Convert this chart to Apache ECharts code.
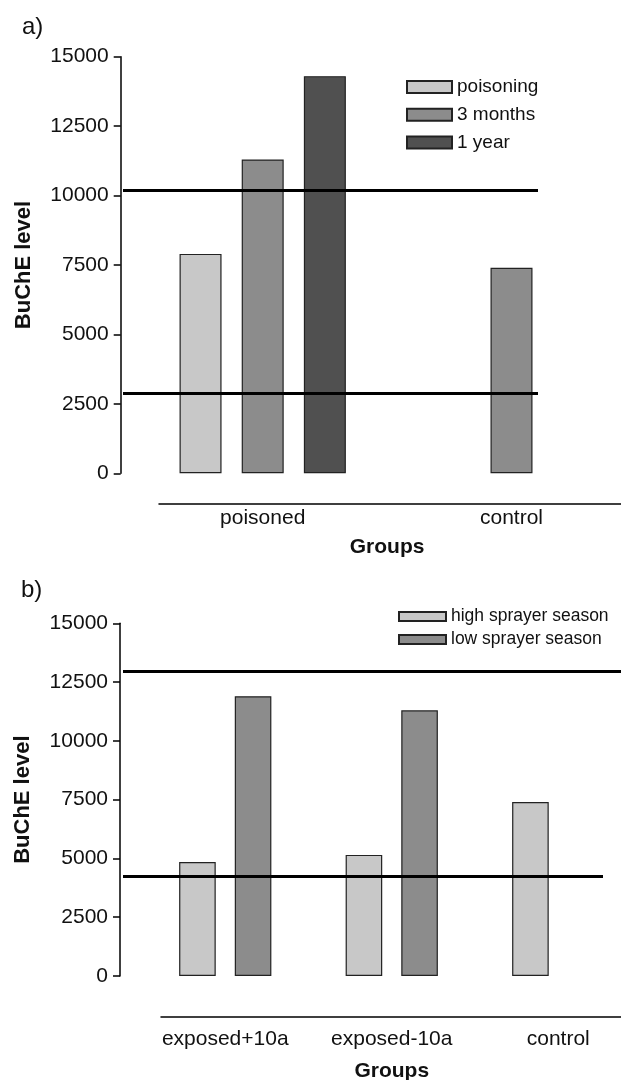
<!DOCTYPE html>
<html>
<head>
<meta charset="utf-8">
<script src="https://cdn.jsdelivr.net/npm/echarts@6/dist/echarts.min.js"></script>
<style>
html,body{margin:0;padding:0;background:#fff;}
#chart{width:621px;height:1080px;}
</style>
</head>
<body>
<div id="chart"></div>
<script>
// ---- data ----
const yMin = 0, yMax = 15000, yStep = 2500;

const catsA = ['poisoned', 'control'];
const poisoningA = [7900, null];
const months3A = [11300, 7400];
const year1A = [14300, null];
const refLinesA = [10200, 2900];

const catsB = ['exposed+10a', 'exposed-10a', 'control'];
const highB = [4850, 5150, 7400];
const lowB = [11900, 11300, null];
const refLinesB = [12950, 4250];

// ---- styling ----
const FONT = 'Liberation Sans, Arial, Helvetica, sans-serif';
const TXT = '#111';
const C_LIGHT = '#c8c8c8', C_MID = '#8c8c8c', C_DARK = '#505050';
const BORDER = '#222';

function valueAxis(gridIndex, offset) {
  return {
    type: 'value', gridIndex: gridIndex, min: yMin, max: yMax, interval: yStep,
    offset: offset,
    name: 'BuChE level', nameLocation: 'middle', nameRotate: 90, nameGap: 86,
    nameTextStyle: { fontFamily: FONT, fontWeight: 'bold', fontSize: 22, color: TXT },
    axisLine: { show: true, lineStyle: { color: '#000', width: 1.5 } },
    axisTick: { show: true, length: 7, lineStyle: { color: '#000', width: 1.5 } },
    axisLabel: { fontFamily: FONT, fontSize: 21, color: TXT, margin: 12,
      formatter: function (v) { return String(v); } },
    splitLine: { show: false }
  };
}
function catAxis(gridIndex, cats, labelMargin, nameGap) {
  return {
    type: 'category', gridIndex: gridIndex, data: cats,
    axisLine: { show: false }, axisTick: { show: false },
    axisLabel: { fontFamily: FONT, fontSize: 21, color: TXT, margin: labelMargin },
    name: 'Groups', nameLocation: 'middle', nameGap: nameGap,
    nameTextStyle: { fontFamily: FONT, fontWeight: 'bold', fontSize: 21, color: TXT }
  };
}
function lineAxis(gridIndex) {
  return {
    type: 'value', gridIndex: gridIndex, min: 0, max: 1,
    axisLine: { show: true, lineStyle: { color: '#000', width: 1.5 } },
    axisTick: { show: false }, axisLabel: { show: false }, splitLine: { show: false }
  };
}
function refMarkLine(values, xStarts, xEnds) {
  return {
    silent: true, symbol: 'none', label: { show: false },
    lineStyle: { color: '#000', width: 3, type: 'solid' },
    data: values.map(function (v, i) {
      return [{ x: xStarts[i], yAxis: v }, { x: xEnds[i], yAxis: v }];
    })
  };
}
function barSeries(name, data, color, xi, yi, width, gap, extra) {
  const s = {
    type: 'bar', name: name, data: data, xAxisIndex: xi, yAxisIndex: yi,
    barWidth: width, barGap: gap,
    itemStyle: { color: color, borderColor: BORDER, borderWidth: 1.2 }
  };
  if (extra) Object.assign(s, extra);
  return s;
}

const chart = echarts.init(document.getElementById('chart'), null, { renderer: 'canvas' });
chart.setOption({
  animation: false,
  backgroundColor: '#fff',
  title: [
    { text: 'a)', left: 17, top: 10, textStyle: { fontFamily: FONT, fontWeight: 'normal', fontSize: 24, color: TXT } },
    { text: 'b)', left: 16, top: 573, textStyle: { fontFamily: FONT, fontWeight: 'normal', fontSize: 24, color: TXT } }
  ],
  legend: [
    {
      data: ['poisoning', '3 months', '1 year'], orient: 'vertical',
      left: 401, top: 72.5, itemWidth: 45, itemHeight: 12, itemGap: 8.7, icon: 'rect',
      selectedMode: false,
      textStyle: { fontFamily: FONT, fontSize: 19, color: TXT }
    },
    {
      data: ['high sprayer season', 'low sprayer season'], orient: 'vertical',
      left: 393, top: 602.5, itemWidth: 47, itemHeight: 9, itemGap: 5, icon: 'rect',
      selectedMode: false,
      textStyle: { fontFamily: FONT, fontSize: 17.5, color: TXT }
    }
  ],
  grid: [
    { left: 138.3, width: 497.6, top: 56.7, height: 416.6, outerBoundsMode: 'none', containLabel: false },
    { left: 142, width: 499.5, top: 623.3, height: 352.7, outerBoundsMode: 'none', containLabel: false },
    { left: 159, right: 0, top: 480, height: 23.3, outerBoundsMode: 'none' },
    { left: 161, right: 0, top: 990, height: 26.7, outerBoundsMode: 'none' }
  ],
  xAxis: [
    catAxis(0, catsA, 34, 63),
    catAxis(1, catsB, 53, 85),
    lineAxis(2),
    lineAxis(3)
  ],
  yAxis: [
    valueAxis(0, 17.6),
    valueAxis(1, 22),
    { type: 'value', gridIndex: 2, show: false },
    { type: 'value', gridIndex: 3, show: false }
  ],
  series: [
    barSeries('poisoning', poisoningA, C_LIGHT, 0, 0, 42, '48%', {
      markLine: refMarkLine(refLinesA, [123, 123], [538, 538])
    }),
    barSeries('3 months', months3A, C_MID, 0, 0, 42, '48%'),
    barSeries('1 year', year1A, C_DARK, 0, 0, 42, '48%'),
    barSeries('high sprayer season', highB, C_LIGHT, 1, 1, 36.6, '52%', {
      markLine: refMarkLine(refLinesB, [123, 123], [621, 603])
    }),
    barSeries('low sprayer season', lowB, C_MID, 1, 1, 36.6, '52%')
  ]
});
</script>
</body>
</html>
